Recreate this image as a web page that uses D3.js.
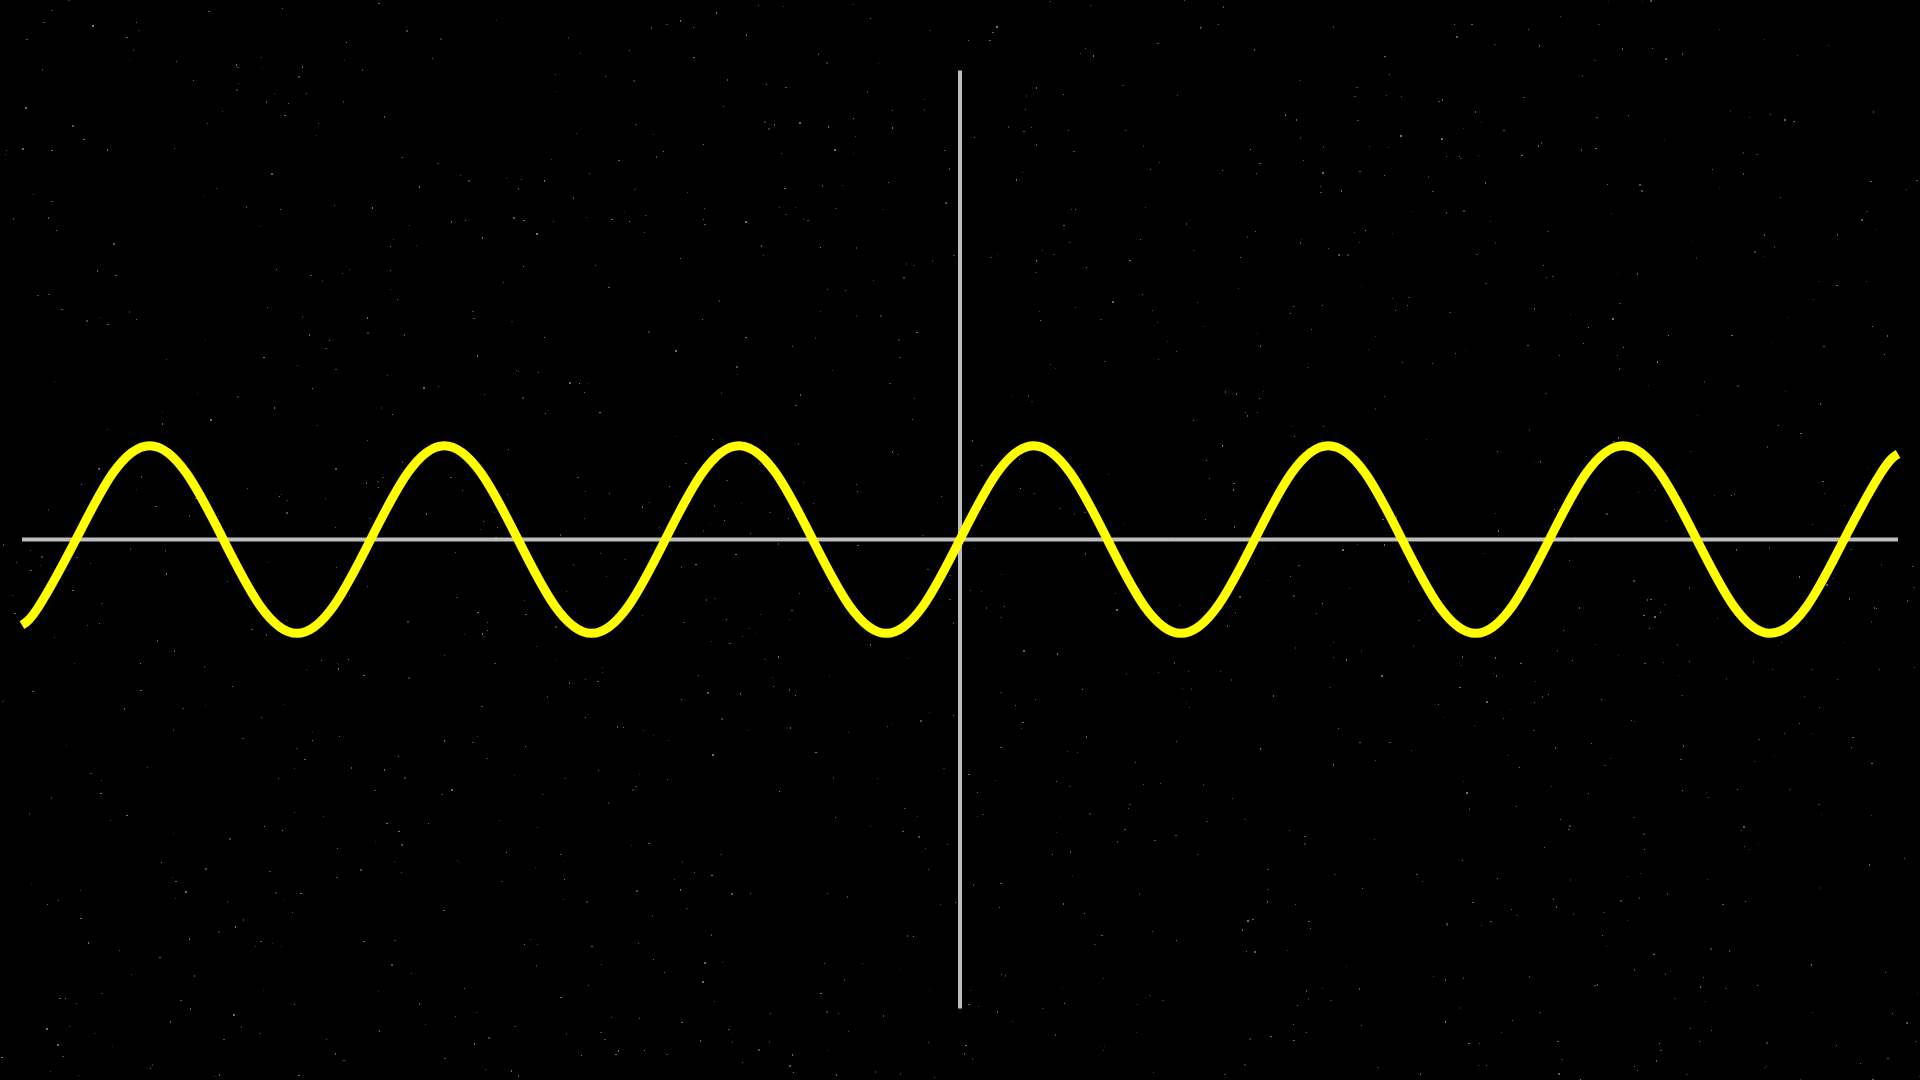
<!DOCTYPE html>
<html>
<head>
<meta charset="utf-8">
<script src="https://cdn.jsdelivr.net/npm/d3@7"></script>
<style>
  html, body { margin: 0; padding: 0; background: #000; overflow: hidden; }
  svg { display: block; }
</style>
</head>
<body>
<script>
// Domain of the axes (units)
const xDomain = [-10, 10];
const yDomain = [-5, 5];

// Curve samples (x in axis units, y in axis units)
const curveX = [
  -10, -9.817, -9.425, -9.032, -8.639, -8.247, -7.854, -7.461, -7.069, -6.676,
  -6.283, -5.890, -5.498, -5.105, -4.712, -4.320, -3.927, -3.534, -3.142, -2.749,
  -2.356, -1.963, -1.571, -1.178, -0.785, -0.393, 0,
  0.393, 0.785, 1.178, 1.571, 1.963, 2.356, 2.749, 3.142, 3.534, 3.927,
  4.320, 4.712, 5.105, 5.498, 5.890, 6.283, 6.676, 7.069, 7.461, 7.854,
  8.247, 8.639, 9.032, 9.425, 9.817, 10
];
const curveY = [
  -0.913, -0.707, 0, 0.707, 1, 0.707, 0, -0.707, -1, -0.707,
  0, 0.707, 1, 0.707, 0, -0.707, -1, -0.707, 0, 0.707,
  1, 0.707, 0, -0.707, -1, -0.707, 0,
  0.707, 1, 0.707, 0, -0.707, -1, -0.707, 0, 0.707, 1,
  0.707, 0, -0.707, -1, -0.707, 0, 0.707, 1, 0.707, 0,
  -0.707, -1, -0.707, 0, 0.707, 0.913
];

const W = 1920, H = 1080;
const svg = d3.select("body").append("svg").attr("width", W).attr("height", H);
svg.append("rect").attr("width", W).attr("height", H).attr("fill", "#000");

// faint decorative starfield (seeded, not data)
const rnd = d3.randomLcg(7);
const stars = svg.append("g");
for (let i = 0; i < 1400; i++) {
  const g = Math.round(40 + rnd() * 80);
  stars.append("rect")
    .attr("x", Math.floor(rnd() * W))
    .attr("y", Math.floor(rnd() * H))
    .attr("width", rnd() < 0.3 ? 2 : 1)
    .attr("height", rnd() < 0.3 ? 2 : 1)
    .attr("fill", `rgb(${g},${g},${g})`);
}

const x = d3.scaleLinear().domain(xDomain).range([22, 1898]);
const y = d3.scaleLinear().domain(yDomain).range([1008.5, 70.5]);

// axes
const axisColor = "#bdbdbd";
svg.append("line")
  .attr("x1", x(xDomain[0])).attr("x2", x(xDomain[1]))
  .attr("y1", y(0)).attr("y2", y(0))
  .attr("stroke", axisColor).attr("stroke-width", 4);
svg.append("line")
  .attr("x1", x(0)).attr("x2", x(0))
  .attr("y1", y(yDomain[0])).attr("y2", y(yDomain[1]))
  .attr("stroke", axisColor).attr("stroke-width", 4);

// curve
const pts = curveX.map((v, i) => [v, curveY[i]]);
const line = d3.line()
  .x(d => x(d[0]))
  .y(d => y(d[1]))
  .curve(d3.curveNatural);
svg.append("path")
  .datum(pts)
  .attr("d", line)
  .attr("fill", "none")
  .attr("stroke", "#ffff00")
  .attr("stroke-width", 9)
  .attr("stroke-linecap", "butt")
  .attr("stroke-linejoin", "round");
</script>
</body>
</html>
